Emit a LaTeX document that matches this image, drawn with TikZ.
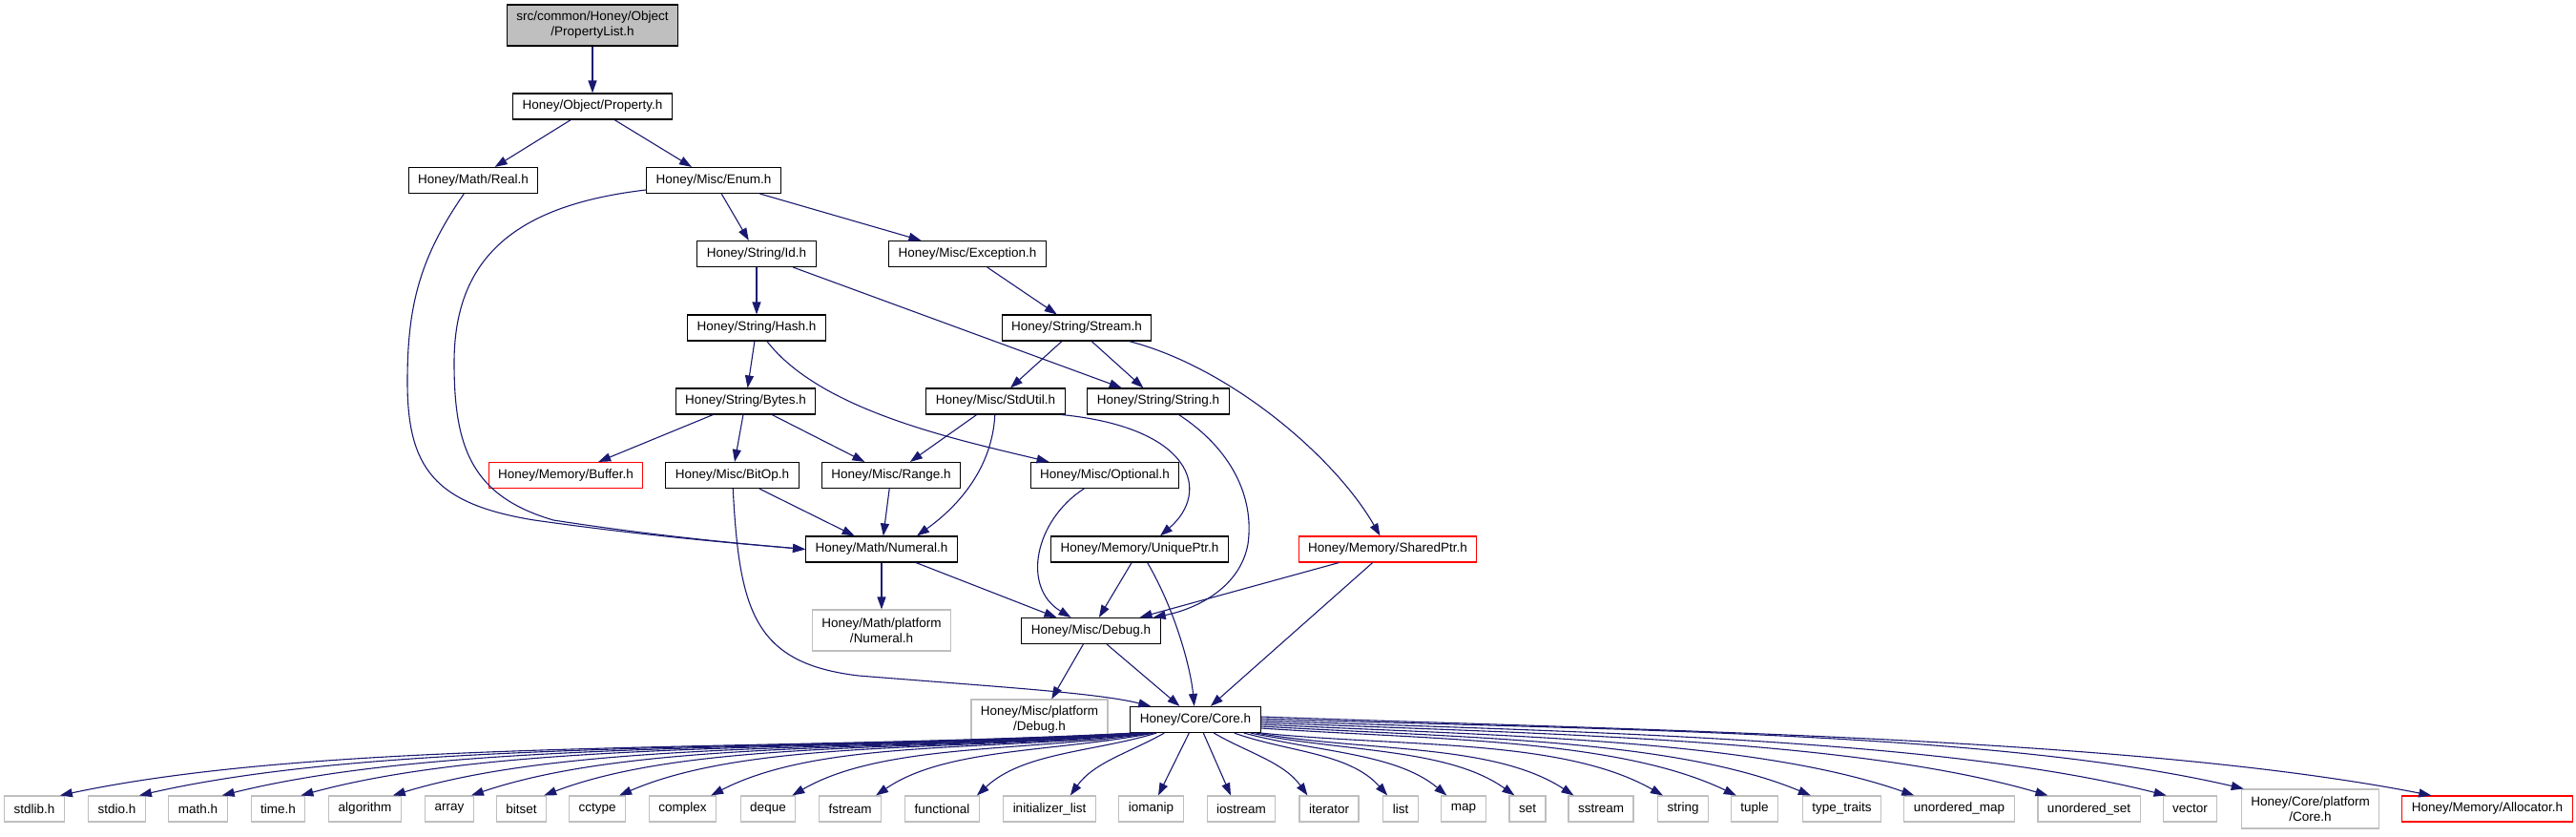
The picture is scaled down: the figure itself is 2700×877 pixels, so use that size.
\documentclass[tikz,border=0pt]{standalone}
\usepackage{fontspec}
\setmainfont{Liberation Sans}
\usetikzlibrary{arrows.meta}
\definecolor{midnightblue}{HTML}{191970}
\definecolor{greyseventyfive}{HTML}{BFBFBF}
\begin{document}
\begin{tikzpicture}[x=1pt,y=-1pt,
 nd/.style={draw=black, line width=1.1pt, fill=white, minimum height=27pt, inner xsep=10pt, inner ysep=0pt, font=\fontsize{13.5}{16}\selectfont, align=center},
 sysnd/.style={nd, draw=greyseventyfive},
 trunc/.style={nd, draw=red},
 root/.style={nd, fill=greyseventyfive},
 twol/.style={minimum height=43pt},
 edge/.style={draw=midnightblue, line width=1.1pt, -{Triangle[length=13pt,width=9pt]}}]
\useasboundingbox (0,0) rectangle (2700,877);

% upper nodes
\node[root, twol] (plist) at (621,26.5) {src/common/Honey/Object\\/PropertyList.h};
\node[nd] (prop) at (621,111.5) {Honey/Object/Property.h};
\node[nd] (real) at (496,189) {Honey/Math/Real.h};
\node[nd] (enum) at (748,189) {Honey/Misc/Enum.h};
\node[nd] (id) at (793,266) {Honey/String/Id.h};
\node[nd] (exc) at (1014,266) {Honey/Misc/Exception.h};
\node[nd] (hash) at (793,343.5) {Honey/String/Hash.h};
\node[nd] (stream) at (1128.5,343.5) {Honey/String/Stream.h};
\node[nd] (bytes) at (781.5,420.5) {Honey/String/Bytes.h};
\node[nd] (stdutil) at (1043.5,420.5) {Honey/Misc/StdUtil.h};
\node[nd] (string) at (1214,420.5) {Honey/String/String.h};
\node[trunc] (buffer) at (593,498) {Honey/Memory/Buffer.h};
\node[nd] (bitop) at (767.5,498) {Honey/Misc/BitOp.h};
\node[nd] (range) at (934,498) {Honey/Misc/Range.h};
\node[nd] (optional) at (1158,498) {Honey/Misc/Optional.h};
\node[nd] (numeral) at (924,575.5) {Honey/Math/Numeral.h};
\node[nd] (unique) at (1194.5,575.5) {Honey/Memory/UniquePtr.h};
\node[trunc] (shared) at (1454.5,575.5) {Honey/Memory/SharedPtr.h};
\node[sysnd, twol] (mathplat) at (924,660.5) {Honey/Math/platform\\/Numeral.h};
\node[nd] (debug) at (1143.5,661) {Honey/Misc/Debug.h};
\node[sysnd, twol] (miscplat) at (1089.5,754.5) {Honey/Misc/platform\\/Debug.h};
\node[nd] (core) at (1253,754) {Honey/Core/Core.h};

% bottom row
\node[sysnd] (stdlib) at (36,847.5) {stdlib.h};
\node[sysnd] (stdio) at (122.5,847.5) {stdio.h};
\node[sysnd] (math) at (207.5,847.5) {math.h};
\node[sysnd] (time) at (291.5,847.5) {time.h};
\node[sysnd] (algorithm) at (382.5,847.5) {algorithm};
\node[sysnd] (array) at (471,847.5) {array};
\node[sysnd] (bitset) at (546.5,847.5) {bitset};
\node[sysnd] (cctype) at (626,847.5) {cctype};
\node[sysnd] (complex) at (715.5,847.5) {complex};
\node[sysnd] (deque) at (805,847.5) {deque};
\node[sysnd] (fstream) at (891,847.5) {fstream};
\node[sysnd] (functional) at (987.5,847.5) {functional};
\node[sysnd] (initlist) at (1100,847.5) {initializer\_list};
\node[sysnd] (iomanip) at (1206.5,847.5) {iomanip};
\node[sysnd] (iostream) at (1301,847.5) {iostream};
\node[sysnd] (iterator) at (1393,847.5) {iterator};
\node[sysnd] (list) at (1468,847.5) {list};
\node[sysnd] (map) at (1534,847.5) {map};
\node[sysnd] (set) at (1601,847.5) {set};
\node[sysnd] (sstream) at (1678,847.5) {sstream};
\node[sysnd] (stringh) at (1764,847.5) {string};
\node[sysnd] (tuple) at (1839,847.5) {tuple};
\node[sysnd] (typetraits) at (1930.5,847.5) {type\_traits};
\node[sysnd] (umap) at (2053.5,847.5) {unordered\_map};
\node[sysnd] (uset) at (2189.5,847.5) {unordered\_set};
\node[sysnd] (vector) at (2295.5,847.5) {vector};
\node[sysnd, minimum height=41pt] (coreplat) at (2421.5,847.5) {Honey/Core/platform\\/Core.h};
\node[trunc] (alloc) at (2607,847.5) {Honey/Memory/Allocator.h};

% upper edges
\draw[edge] (plist) -- (prop);
\draw[edge] (prop) -- (real);
\draw[edge] (prop) -- (enum);
\draw[edge] (enum) -- (id);
\draw[edge] (enum) -- (exc);
\draw[edge] (id) -- (hash);
\draw[edge] (id) -- (string);
\draw[edge] (exc) -- (stream);
\draw[edge] (hash) -- (bytes);
\draw[edge] (hash) .. controls (860,430) and (1000,460) .. (optional);
\draw[edge] (stream) -- (stdutil);
\draw[edge] (stream) -- (string);
\draw[edge] ([xshift=-24pt]stream.south east) .. controls (1290,385) and (1400,480) .. ([xshift=-8pt]shared.north);
\draw[edge] (bytes) -- (buffer);
\draw[edge] (bytes) -- (bitop);
\draw[edge] (bytes) -- (range);
\draw[edge] (stdutil) -- (range);
\draw[edge] (stdutil) .. controls (1040,490) and (1005,530) .. ([xshift=37pt]numeral.north);
\draw[edge] ([xshift=-4pt]stdutil.south east) .. controls (1250,448) and (1270,515) .. ([xshift=21.5pt]unique.north);
\draw[edge] (string) .. controls (1290,470) and (1315,520) .. (1308,570) .. controls (1300,615) and (1255,638) .. ([xshift=-8pt]debug.north east);
\draw[edge] (range) -- (numeral);
\draw[edge] (bitop) -- (numeral);
\draw[edge] (bitop) .. controls (775,640) and (790,695) .. (900,708) .. controls (1050,720) and (1150,726) .. ([xshift=22pt]core.north west);
\draw[edge] (optional) .. controls (1085,545) and (1070,615) .. ([xshift=-21pt]debug.north);
\draw[edge] (real) .. controls (440,270) and (427,320) .. (427,400) .. controls (427,490) and (455,528) .. (560,545) .. controls (680,562) and (780,570) .. (numeral.west);
\draw[edge] ([yshift=-10pt]enum.west) .. controls (540,215) and (476,270) .. (476,380) .. controls (476,470) and (495,520) .. (580,545) .. controls (690,562) and (780,570) .. (numeral.west);
\draw[edge] (numeral) -- (mathplat);
\draw[edge] (numeral) -- (debug);
\draw[edge] (unique) -- (debug);
\draw[edge] (unique) .. controls (1232,640) and (1248,700) .. (core);
\draw[edge] (shared) -- (debug);
\draw[edge] (shared) -- (core);
\draw[edge] (debug) -- (miscplat);
\draw[edge] (debug) -- (core);

% Core.h to bottom row (left)
\draw[edge] ([xshift=5pt]core.south west) .. controls +(-394,20) and +(282,-60) .. ([xshift=-5pt]stdlib.north east);
\draw[edge] ([xshift=7pt]core.south west) .. controls +(-366,20) and +(262,-60) .. ([xshift=-7pt]stdio.north east);
\draw[edge] ([xshift=9pt]core.south west) .. controls +(-337,20) and +(241,-60) .. ([xshift=-6pt]math.north east);
\draw[edge] ([xshift=11pt]core.south west) .. controls +(-308,20) and +(220,-60) .. ([xshift=-5pt]time.north east);
\draw[edge] ([xshift=13pt]core.south west) .. controls +(-275,20) and +(197,-60) .. ([xshift=-9pt]algorithm.north east);
\draw[edge] ([xshift=15pt]core.south west) .. controls +(-247,20) and +(177,-60) .. ([xshift=-3pt]array.north east);
\draw[edge] ([xshift=17pt]core.south west) .. controls +(-221,20) and +(158,-60) .. ([xshift=-3pt]bitset.north east);
\draw[edge] ([xshift=19pt]core.south west) .. controls +(-194,20) and +(139,-60) .. ([xshift=-7pt]cctype.north east);
\draw[edge] ([xshift=21pt]core.south west) .. controls +(-162,20) and +(116,-60) .. ([xshift=-6pt]complex.north east);
\draw[edge] ([xshift=23pt]core.south west) .. controls +(-132,20) and +(95,-55) .. ([xshift=-4pt]deque.north east);
\draw[edge] ([xshift=25pt]core.south west) .. controls +(-103,20) and +(73,-50) .. ([xshift=-6pt]fstream.north east);
\draw[edge] ([xshift=28pt]core.south west) .. controls +(-67,20) and +(48,-45) .. ([xshift=-3pt]functional.north east);
\draw[edge] ([xshift=36pt]core.south west) .. controls +(-35,20) and +(25,-35) .. ([xshift=-27pt]initlist.north east);
\draw[edge] ([xshift=62pt]core.south west) -- ([xshift=7.5pt]iomanip.north);
\draw[edge] ([xshift=77pt]core.south west) -- ([xshift=-11pt]iostream.north);
\draw[edge] ([xshift=88pt]core.south west) .. controls +(34,20) and +(-25,-35) .. ([xshift=9pt]iterator.north west);
% Core.h to bottom row (right)
\draw[edge] ([xshift=-28pt]core.south east) .. controls +(56,20) and +(-40,-45) .. ([xshift=5pt]list.north west);
\draw[edge] ([xshift=-18pt]core.south east) .. controls +(75,20) and +(-54,-45) .. ([xshift=6pt]map.north west);
\draw[edge] ([xshift=-11pt]core.south east) .. controls +(97,20) and +(-70,-50) .. ([xshift=6pt]set.north west);
\draw[edge] ([xshift=-5pt]core.south east) .. controls +(117,20) and +(-84,-55) .. ([xshift=6pt]sstream.north west);
\draw[edge] (core.south east) .. controls +(148,15) and +(-105,-60) .. ([xshift=6pt]stringh.north west);
\draw[edge] ([yshift=-9pt]core.east) .. controls +(175,12) and +(-125,-60) .. ([xshift=6pt]tuple.north west);
\draw[edge] ([yshift=-7pt]core.east) .. controls +(202,12) and +(-144,-60) .. ([xshift=9pt]typetraits.north west);
\draw[edge] ([yshift=-5pt]core.east) .. controls +(240,12) and +(-171,-60) .. ([xshift=11pt]umap.north west);
\draw[edge] ([yshift=-3pt]core.east) .. controls +(289,12) and +(-206,-60) .. ([xshift=11pt]uset.north west);
\draw[edge] ([yshift=-1pt]core.east) .. controls +(332,12) and +(-237,-60) .. ([xshift=4pt]vector.north west);
\draw[edge] ([yshift=1pt]core.east) .. controls +(361,12) and +(-258,-60) .. ([xshift=3pt]coreplat.north west);
\draw[edge] ([yshift=3pt]core.east) .. controls +(430,15) and +(-307,-60) .. ([xshift=31pt]alloc.north west);
\end{tikzpicture}
\end{document}
